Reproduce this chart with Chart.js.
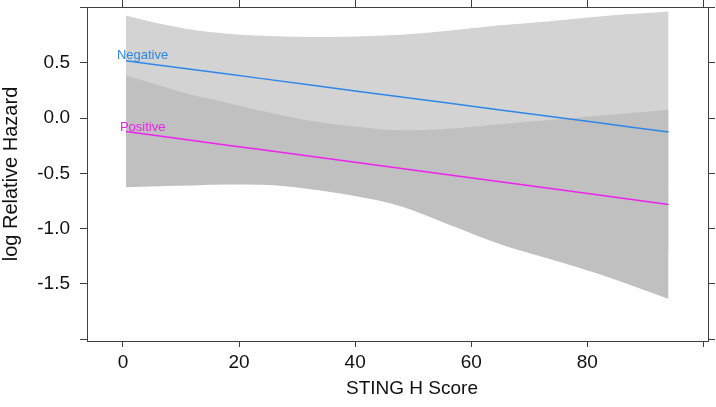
<!DOCTYPE html>
<html>
<head>
<meta charset="utf-8">
<script src="https://cdn.jsdelivr.net/npm/chart.js@4.4.1/dist/chart.umd.min.js"></script>
<style>
  html, body { margin: 0; padding: 0; background: #fff; }
  #wrap { width: 716px; height: 407px; }
</style>
</head>
<body>
<div id="wrap"><canvas id="c" width="716" height="407"></canvas></div>
<script>
  // STING H Score (x) – Stützstellen
  var scoreX = [0.5, 6, 12, 18, 24, 32, 40, 48, 56, 65, 74, 82, 88, 94];

  // Schätzer (log relative hazard)
  var negEst = [0.52, 0.482, 0.441, 0.399, 0.358, 0.303, 0.247, 0.192, 0.137, 0.075, 0.013, -0.042, -0.084, -0.125];
  var posEst = [-0.12, -0.159, -0.201, -0.244, -0.286, -0.342, -0.399, -0.455, -0.512, -0.575, -0.639, -0.695, -0.738, -0.78];

  // Konfidenzbänder
  var negUpper = [0.93, 0.86, 0.80, 0.765, 0.745, 0.735, 0.74, 0.755, 0.79, 0.84, 0.88, 0.92, 0.945, 0.966];
  var negLower = [0.11, 0.10, 0.08, 0.03, -0.03, -0.13, -0.25, -0.37, -0.52, -0.69, -0.85, -1.0, -1.11, -1.22];
  var posUpper = [0.387, 0.30, 0.21, 0.14, 0.065, -0.02, -0.075, -0.11, -0.095, -0.055, -0.015, 0.024, 0.05, 0.076];
  var posLower = [-0.625, -0.615, -0.608, -0.60, -0.602, -0.64, -0.705, -0.80, -0.96, -1.14, -1.28, -1.41, -1.52, -1.636];

  var xTicks = [0, 20, 40, 60, 80, 100];
  var xTickLabels = ['0', '20', '40', '60', '80', ''];
  var yTicks = [-2, -1.5, -1, -0.5, 0, 0.5, 1];
  var yTickLabels = ['', '-1.5', '-1.0', '-0.5', '0.0', '0.5', ''];

  var groups = ['Negative', 'Positive'];
  var BLUE = '#2f86ea', MAGENTA = '#ee22ee';
  var AXIS = '#404040', FONT = "'Liberation Sans', Arial, sans-serif";

  function pts(ys) { return ys.map(function (y, i) { return { x: scoreX[i], y: y }; }); }
  function band(data, fill, bg, order) {
    return { data: pts(data), fill: fill, backgroundColor: bg, borderWidth: 0, pointRadius: 0,
      cubicInterpolationMode: 'monotone', order: order };
  }
  function line(data, col) {
    return { data: pts(data), borderColor: col, borderWidth: 1.5, pointRadius: 0, fill: false, tension: 0, order: 0 };
  }
  function fixTicks(vals) { return function (s) { s.ticks = vals.map(function (v) { return { value: v }; }); }; }
  // feste Achsengröße, ohne Label-Überstand
  function size(prop, v) {
    return function (s) { s[prop] = v; s.paddingTop = s.paddingBottom = s.paddingLeft = s.paddingRight = 0; };
  }

  // Gruppenbeschriftung am Linienanfang + Achsentitel
  var annot = {
    id: 'annot',
    afterDatasetsDraw: function (chart) {
      var ctx = chart.ctx, xs = chart.scales.x, ys = chart.scales.y;
      ctx.save();
      ctx.font = '13px ' + FONT;
      ctx.textAlign = 'left';
      ctx.textBaseline = 'middle';
      ctx.fillStyle = BLUE;
      ctx.fillText(groups[0], xs.getPixelForValue(scoreX[0]) - 9, ys.getPixelForValue(negEst[0]) - 5);
      ctx.fillStyle = MAGENTA;
      ctx.fillText(groups[1], xs.getPixelForValue(scoreX[0]) - 6, ys.getPixelForValue(posEst[0]) - 4);
      ctx.restore();
    },
    afterDraw: function (chart) {
      var ctx = chart.ctx;
      ctx.save();
      ctx.fillStyle = '#111';
      ctx.font = '19px ' + FONT;
      ctx.textAlign = 'center';
      ctx.textBaseline = 'middle';
      ctx.fillText('STING H Score', 412, 389);
      ctx.font = '20px ' + FONT;
      ctx.translate(11, 174);
      ctx.rotate(-Math.PI / 2);
      ctx.fillText('log Relative Hazard', 0, 0);
      ctx.restore();
    }
  };

  var tickFont = { family: FONT, size: 19 };
  new Chart(document.getElementById('c').getContext('2d'), {
    type: 'line',
    data: {
      datasets: [
        line(negEst, BLUE),
        line(posEst, MAGENTA),
        band(negUpper, '+1', '#d3d3d3', 3),
        band(negLower, false, 'transparent', 3),
        band(posUpper, '+1', '#c0c0c0', 2),
        band(posLower, false, 'transparent', 2)
      ]
    },
    plugins: [annot],
    options: {
      responsive: false, animation: false,
      layout: { padding: 0 },
      plugins: { legend: { display: false }, tooltip: { enabled: false } },
      scales: {
        x: {
          type: 'linear', position: 'bottom', min: -6.2, max: 100.8,
          afterBuildTicks: fixTicks(xTicks), afterFit: size('height', 66),
          grid: { drawOnChartArea: false, tickLength: 6, color: AXIS },
          border: { color: AXIS, width: 1 },
          ticks: { font: tickFont, color: '#111', padding: 4, maxRotation: 0, autoSkip: false,
            callback: function (v, i) { return xTickLabels[i]; } }
        },
        x2: {
          type: 'linear', position: 'top', min: -6.2, max: 100.8,
          afterBuildTicks: fixTicks(xTicks), afterFit: size('height', 7),
          grid: { drawOnChartArea: false, tickLength: 7, color: AXIS },
          border: { color: AXIS, width: 1 },
          ticks: { display: false }
        },
        y: {
          type: 'linear', position: 'left', min: -2.016, max: 1.006,
          afterBuildTicks: fixTicks(yTicks), afterFit: size('width', 87),
          grid: { drawOnChartArea: false, tickLength: 7, color: AXIS },
          border: { color: AXIS, width: 1 },
          ticks: { font: tickFont, color: '#111', padding: 10, autoSkip: false,
            callback: function (v, i) { return yTickLabels[i]; } }
        },
        y2: {
          type: 'linear', position: 'right', min: -2.016, max: 1.006,
          afterBuildTicks: fixTicks(yTicks), afterFit: size('width', 8),
          grid: { drawOnChartArea: false, tickLength: 7, color: AXIS },
          border: { color: AXIS, width: 1 },
          ticks: { display: false }
        }
      }
    }
  });
</script>
</body>
</html>
